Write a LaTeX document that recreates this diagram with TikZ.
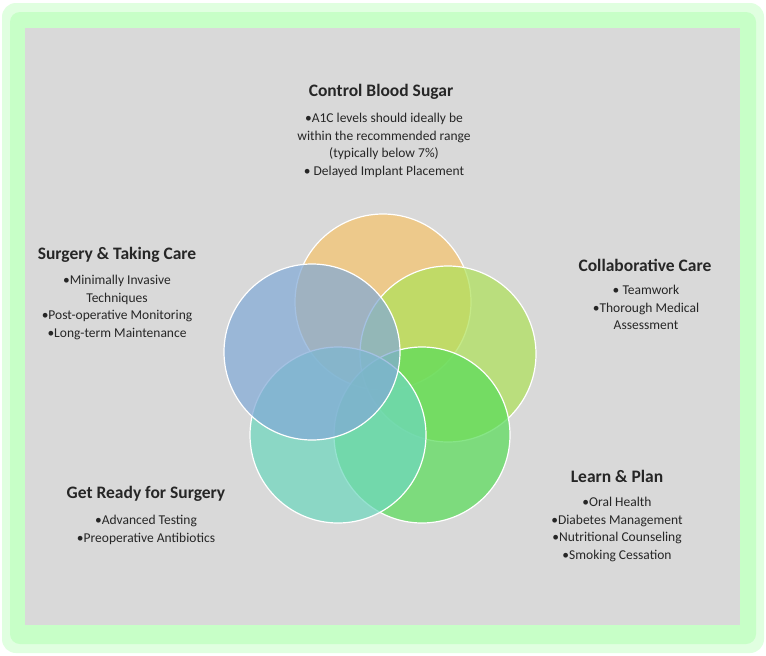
\documentclass[tikz,border=0pt]{standalone}
\usepackage{fontspec}
\setmainfont{Carlito}
\begin{document}
\begin{tikzpicture}[x=1pt,y=-1pt,
  ttl/.style={font=\fontsize{17.5}{20}\selectfont\bfseries, text=black!85},
  bd/.style={font=\fontsize{13.5}{17.5}\selectfont, text=black!85, align=center},
  circ/.style={circle, minimum size=176pt, inner sep=0pt, draw=white, line width=1.2pt, fill opacity=0.72}]
\useasboundingbox (0,0) rectangle (766,656);
\fill[white] (0,0) rectangle (766,656);
\fill[green!12!white, rounded corners=14pt] (2,3) rectangle (764,653);
\fill[green!22!white, rounded corners=10pt] (10,12) rectangle (756,644);
\fill[black!15] (25,28) rectangle (740,625);
\node[circ, fill={rgb,255:red,245;green,196;blue,110}] (o) at (383,302) {};
\node[circ, fill={rgb,255:red,175;green,225;blue,90}] (y) at (448,354) {};
\node[circ, fill={rgb,255:red,90;green,220;blue,90}] (g) at (422,435) {};
\node[circ, fill={rgb,255:red,110;green,215;blue,190}] (t) at (338,435) {};
\node[circ, fill={rgb,255:red,130;green,170;blue,215}] (b) at (312,352) {};
\node[ttl] (t1) at (381,92) {Control Blood Sugar};
\node[bd, anchor=north] (b1) at (384,110) {•A1C levels should ideally be\\within the recommended range\\(typically below 7\%)\\• Delayed Implant Placement};
\node[ttl] (t2) at (645,265) {Collaborative Care};
\node[bd, anchor=north] (b2) at (646,282) {• Teamwork\\•Thorough Medical\\ Assessment};
\node[ttl] (t3) at (617,476) {Learn \& Plan};
\node[bd, anchor=north] (b3) at (617,494) {•Oral Health\\•Diabetes Management\\•Nutritional Counseling\\•Smoking Cessation};
\node[ttl] (t4) at (146,494) {Get Ready for Surgery};
\node[bd, anchor=north] (b4) at (146,512) {•Advanced Testing\\•Preoperative Antibiotics};
\node[ttl] (t5) at (117,255) {Surgery \& Taking Care};
\node[bd, anchor=north] (b5) at (117,272) {•Minimally Invasive\\Techniques\\•Post-operative Monitoring\\•Long-term Maintenance};
\end{tikzpicture}
\end{document}
